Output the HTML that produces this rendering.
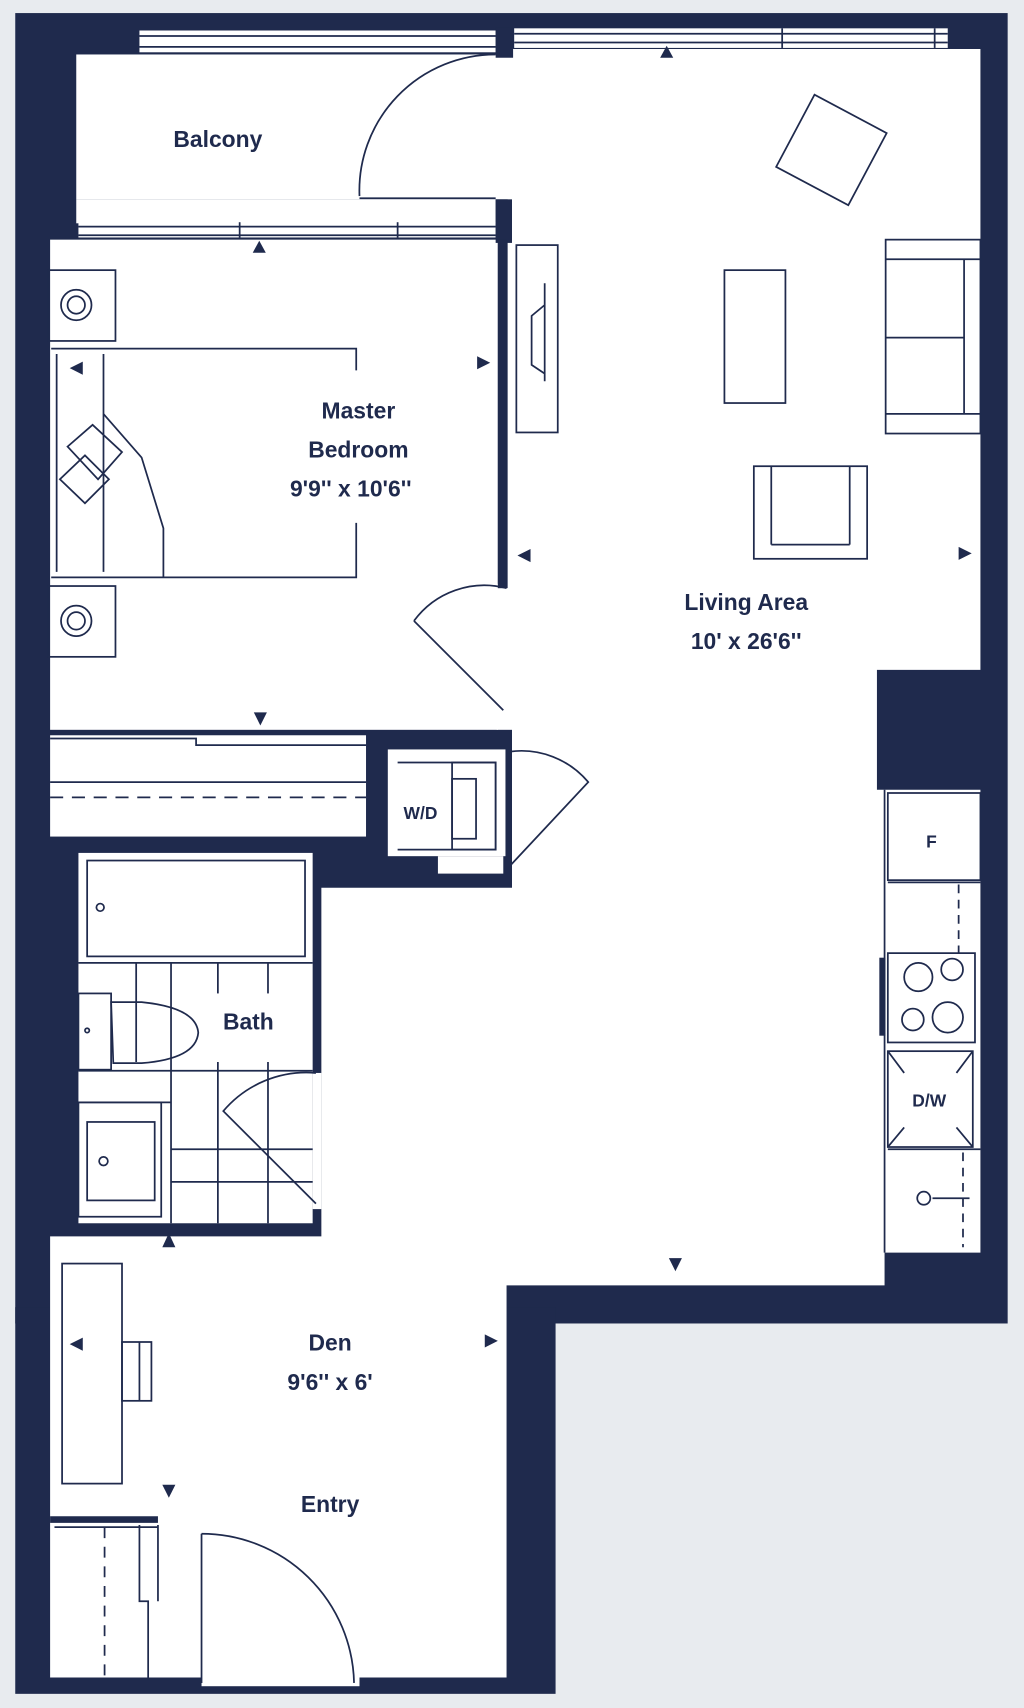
<!DOCTYPE html>
<html><head><meta charset="utf-8"><style>
html,body{margin:0;padding:0;background:#e8ebef;}
svg{display:block}
text{font-family:"Liberation Sans",sans-serif;fill:#1f2a4d;font-weight:bold;}
</style></head><body>
<svg width="1024" height="1708" viewBox="0 0 940 1568" preserveAspectRatio="none" xmlns="http://www.w3.org/2000/svg">
<rect x="0" y="0" width="940" height="1568" fill="#e8ebef"/>
<g fill="#1f2a4d">
<rect x="14" y="12" width="911" height="1203"/>
<rect x="14" y="1200" width="496" height="355"/>
</g>
<g fill="#fff">
<rect x="70" y="50" width="402" height="133"/>
<rect x="70" y="183" width="385" height="22"/>
<rect x="128" y="28" width="327" height="20"/>
<rect x="472" y="26" width="398" height="18"/>
<polygon points="466,45 900,45 900,615 805,615 805,725 900,725 900,1150 812,1150 812,1180 465,1180 465,1540 46,1540 46,1135 295,1135 295,815 470,815 470,668 465,668 465,540 466,540"/>
<rect x="46" y="220" width="411" height="450"/>
<rect x="46" y="675" width="290" height="93"/>
<rect x="356" y="688" width="108" height="98"/>
<rect x="402" y="786" width="60" height="16"/>
<rect x="72" y="783" width="215" height="340"/>
<rect x="287" y="985" width="8" height="125"/>
<rect x="72" y="204" width="383" height="14"/>
<rect x="456" y="540" width="16" height="130"/>
<rect x="185" y="1540" width="145" height="8"/>
</g>
<g fill="#1f2a4d">
<rect x="455" y="25" width="16" height="28"/>
<rect x="455" y="183" width="15" height="40"/>
<rect x="457" y="220" width="8" height="316"/>
</g>
<g fill="none" stroke="#1f2a4d" stroke-width="1.6">
<line x1="128" y1="33" x2="455" y2="33"/><line x1="128" y1="43" x2="455" y2="43"/>
<line x1="472" y1="31" x2="870" y2="31"/><line x1="472" y1="39" x2="870" y2="39"/>
<line x1="718" y1="26" x2="718" y2="44"/><line x1="858" y1="26" x2="858" y2="44"/>
<line x1="72" y1="208" x2="455" y2="208"/><line x1="72" y1="216" x2="455" y2="216"/>
<line x1="220" y1="204" x2="220" y2="218"/><line x1="365" y1="204" x2="365" y2="218"/>
<path d="M455,50 A125,125 0 0 0 330,180"/>
<line x1="330" y1="182" x2="455" y2="182"/>
<rect x="474" y="225" width="38" height="172"/>
<path d="M500,260 L500,350 M500,280 L488,290 L488,335 L500,343"/>
<rect x="44" y="248" width="62" height="65"/><circle cx="70" cy="280" r="14"/><circle cx="70" cy="280" r="8"/>
<rect x="44" y="538" width="62" height="65"/><circle cx="70" cy="570" r="14"/><circle cx="70" cy="570" r="8"/>
<path d="M47,320 L327,320 L327,340 M327,480 L327,530 L47,530"/>
<line x1="52" y1="325" x2="52" y2="525"/><line x1="95" y1="325" x2="95" y2="525"/>
<path d="M95,380 L130,420 L150,485 L150,530 M62,410 L85,390 L112,415 L90,440 Z M55,440 L78,418 L100,440 L78,462 Z"/>
<path d="M465,540 A80,80 0 0 0 380,570"/>
<line x1="380" y1="570" x2="462" y2="652"/>
<path d="M46,678 L180,678 L180,684 L336,684"/>
<line x1="46" y1="718" x2="336" y2="718"/>
<line x1="46" y1="732" x2="336" y2="732" stroke-dasharray="12,8"/>
<path d="M365,700 L455,700 L455,780 L365,780"/>
<rect x="415" y="700" width="40" height="80"/><rect x="415" y="715" width="22" height="55"/>
<path d="M468,690 A80,80 0 0 1 540,718 L468,795"/>
<rect x="80" y="790" width="200" height="88"/><circle cx="92" cy="833" r="3.5"/>
<line x1="72" y1="884" x2="287" y2="884"/>
<line x1="125" y1="884" x2="125" y2="975"/><line x1="157" y1="884" x2="157" y2="1123"/>
<line x1="200" y1="884" x2="200" y2="912"/><line x1="246" y1="884" x2="246" y2="912"/>
<line x1="200" y1="975" x2="200" y2="1123"/><line x1="246" y1="975" x2="246" y2="1123"/>
<line x1="72" y1="983" x2="287" y2="983"/><line x1="157" y1="1055" x2="287" y2="1055"/><line x1="157" y1="1085" x2="287" y2="1085"/>
<line x1="72" y1="1012" x2="157" y2="1012"/>
<rect x="72" y="912" width="30" height="70"/><circle cx="80" cy="946" r="2"/>
<path d="M102,920 L130,920 Q180,925 182,948 Q180,972 130,976 L104,976 Z"/>
<rect x="72" y="1012" width="76" height="105"/><rect x="80" y="1030" width="62" height="72"/><circle cx="95" cy="1066" r="4"/>
<path d="M290,985 A100,100 0 0 0 205,1020 L290,1105"/>
<rect x="726" y="100" width="75" height="75" transform="rotate(28 763 137)"/>
<rect x="665" y="248" width="56" height="122"/>
<rect x="813" y="220" width="87" height="178"/><line x1="813" y1="310" x2="885" y2="310"/><line x1="885" y1="238" x2="885" y2="380"/><line x1="813" y1="238" x2="900" y2="238"/><line x1="813" y1="380" x2="900" y2="380"/>
<rect x="692" y="428" width="104" height="85"/><line x1="708" y1="428" x2="708" y2="500"/><line x1="780" y1="428" x2="780" y2="500"/><line x1="708" y1="500" x2="780" y2="500"/>
<rect x="815" y="728" width="85" height="80"/>
<line x1="815" y1="810" x2="900" y2="810"/><line x1="812" y1="725" x2="812" y2="1150"/>
<line x1="880" y1="812" x2="880" y2="875" stroke-dasharray="8,6"/>
<rect x="815" y="875" width="80" height="82"/>
<circle cx="843" cy="897" r="13"/><circle cx="874" cy="890" r="10"/><circle cx="838" cy="936" r="10"/><circle cx="870" cy="934" r="14"/>
<rect x="808" y="880" width="4" height="70" fill="#1f2a4d"/>
<rect x="815" y="965" width="78" height="88"/><path d="M815,965 L830,985 M893,965 L878,985 M815,1053 L830,1035 M893,1053 L878,1035"/>
<line x1="815" y1="1055" x2="900" y2="1055"/>
<line x1="884" y1="1058" x2="884" y2="1145" stroke-dasharray="8,6"/>
<circle cx="848" cy="1100" r="6"/><line x1="856" y1="1100" x2="890" y2="1100"/>
<rect x="57" y="1160" width="55" height="202"/>
<rect x="112" y="1232" width="27" height="54"/><line x1="128" y1="1232" x2="128" y2="1286"/>
<line x1="46" y1="1395" x2="145" y2="1395" stroke-width="6"/>
<line x1="50" y1="1402" x2="145" y2="1402"/>
<line x1="96" y1="1402" x2="96" y2="1540" stroke-dasharray="10,8"/>
<path d="M128,1400 L128,1470 L136,1470 L136,1540 M145,1400 L145,1470"/>
<line x1="185" y1="1408" x2="185" y2="1545"/>
<path d="M185,1408 A140,140 0 0 1 325,1545"/>
</g>
<g fill="#1f2a4d">
<polygon points="238,221 232,232 244,232"/>
<polygon points="612,42 606,53 618,53"/>
<polygon points="64,338 76,332 76,344"/>
<polygon points="438,327 450,333 438,339"/>
<polygon points="475,510 487,504 487,516"/>
<polygon points="880,502 892,508 880,514"/>
<polygon points="233,654 245,654 239,666"/>
<polygon points="614,1155 626,1155 620,1167"/>
<polygon points="155,1132 149,1145 161,1145"/>
<polygon points="64,1234 76,1228 76,1240"/>
<polygon points="445,1225 457,1231 445,1237"/>
<polygon points="149,1363 161,1363 155,1375"/>
</g>
<g font-size="21" text-anchor="middle">
<text x="200" y="135">Balcony</text>
<text x="329" y="384">Master</text>
<text x="329" y="420">Bedroom</text>
<text x="322" y="456">9'9'' x 10'6''</text>
<text x="685" y="560">Living Area</text>
<text x="685" y="596">10' x 26'6''</text>
<text x="228" y="945">Bath</text>
<text x="303" y="1240">Den</text>
<text x="303" y="1276">9'6'' x 6'</text>
<text x="303" y="1388">Entry</text>
<text x="386" y="752" font-size="16">W/D</text>
<text x="855" y="778" font-size="16">F</text>
<text x="853" y="1016" font-size="16">D/W</text>
</g>
</svg>
</body></html>
